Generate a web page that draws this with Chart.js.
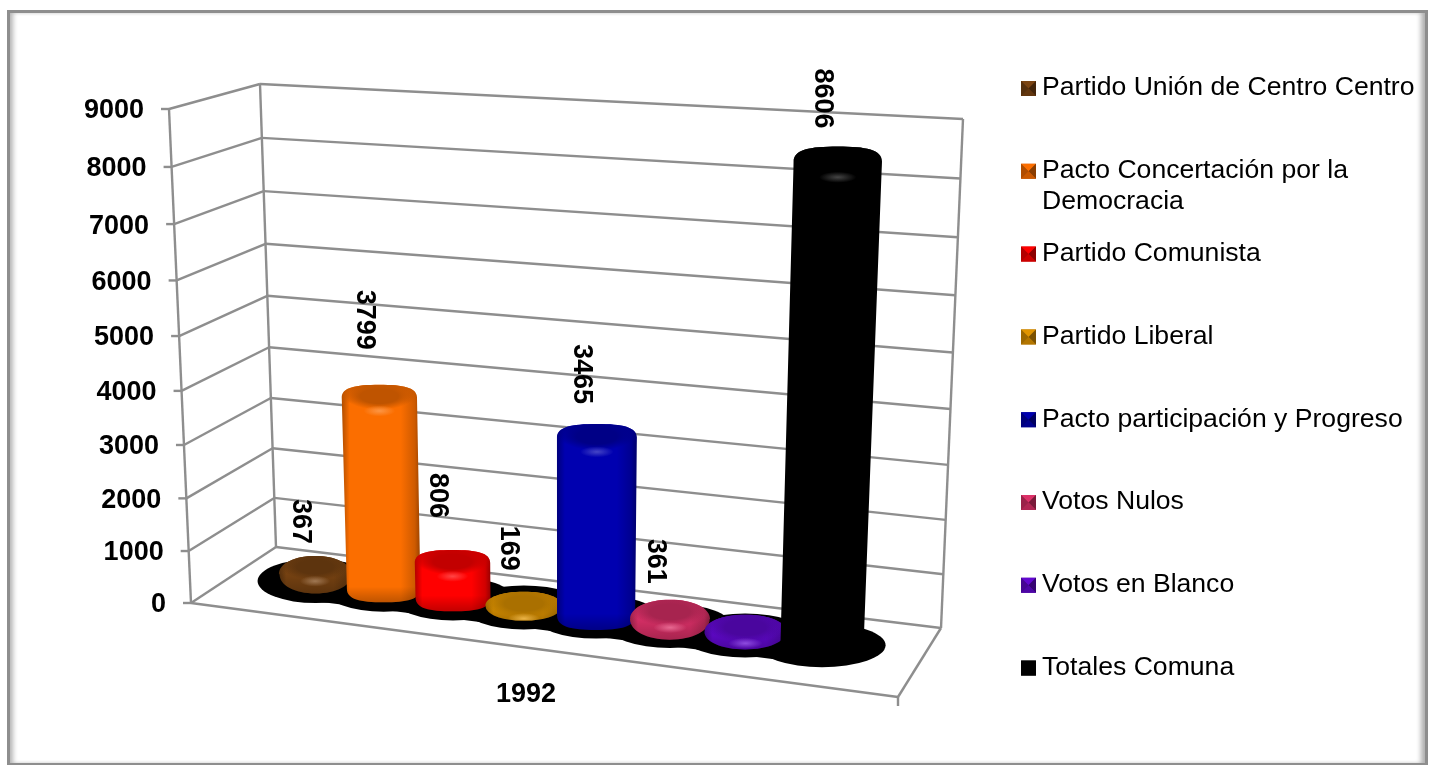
<!DOCTYPE html>
<html>
<head>
<meta charset="utf-8">
<script src="https://cdn.jsdelivr.net/npm/chart.js@4.4.7/dist/chart.umd.min.js"></script>
<style>
html, body { margin: 0; padding: 0; background: #fff; overflow: hidden; }
#wrap { position: relative; width: 1430px; height: 765px; }
#chart { position: absolute; left: 0; top: 0; }
#frame { position: absolute; left: 7px; top: 10px; width: 1415px; height: 750px; border: 3px solid #8e8e8e; box-shadow: inset 5px 0 5px -2px #b5b5b5, inset -6px 0 5px -2px #b0b0b0; pointer-events: none; }
</style>
</head>
<body>
<div id="wrap">
  <canvas id="chart" width="1430" height="765"></canvas>
  <div id="frame"></div>
</div>
<script>
"use strict";

var categories = ["1992"];
var seriesNames = ["Partido Unión de Centro Centro", "Pacto Concertación por la Democracia", "Partido Comunista", "Partido Liberal", "Pacto participación y Progreso", "Votos Nulos", "Votos en Blanco", "Totales Comuna"];
var seriesValues = [367, 3799, 806, 169, 3465, 361, 250, 8606];
var dataLabels = ["367", "3799", "806", "169", "3465", "361", null, "8606"];
var seriesColors = ["#7a4412", "#fb6e00", "#ff0000", "#e09400", "#0000b0", "#dc3068", "#6208d0", "#000000"];

// gap between bar top and its rotated label
var labelGaps = [12, 35, 32, 21, 20, 16, 0, 18];
var legendLines = [["Partido Unión de Centro Centro"], ["Pacto Concertación por la", "Democracia"], ["Partido Comunista"], ["Partido Liberal"], ["Pacto participación y Progreso"], ["Votos Nulos"], ["Votos en Blanco"], ["Totales Comuna"]];

var GRID = "#8e8e8e";
var BOLD = "bold 27px 'Liberation Sans', Arial, sans-serif";
var PLAIN = "26.6px 'Liberation Sans', Arial, sans-serif";

// box corners on screen: bottom-left, bottom-right, top-right, top-left
var backWall = makeQuad([[276, 547], [941, 628], [963, 119], [260, 84]]);
var frontWall = makeQuad([[191, 603], [898, 697], [923, 158], [169, 109]]);
var BAR_DEPTH = 0.58;
var U_SHIFT = -0.008;

function makeQuad(p) {
    var dx1 = p[1][0] - p[2][0], dx2 = p[3][0] - p[2][0], sx = p[0][0] - p[1][0] + p[2][0] - p[3][0];
    var dy1 = p[1][1] - p[2][1], dy2 = p[3][1] - p[2][1], sy = p[0][1] - p[1][1] + p[2][1] - p[3][1];
    var den = dx1 * dy2 - dx2 * dy1;
    var g = (sx * dy2 - dx2 * sy) / den, h = (dx1 * sy - sx * dy1) / den;
    var a = p[1][0] - p[0][0] + g * p[1][0], b = p[3][0] - p[0][0] + h * p[3][0];
    var d = p[1][1] - p[0][1] + g * p[1][1], e = p[3][1] - p[0][1] + h * p[3][1];
    return function (u, v) {
        var q = g * u + h * v + 1;
        return [(a * u + b * v + p[0][0]) / q, (d * u + e * v + p[0][1]) / q];
    };
}

// u along the floor, v up the value axis, w 0 = front, 1 = back
function project(u, v, w) {
    var f = frontWall(u, v), b = backWall(u, v);
    return [f[0] + (b[0] - f[0]) * w, f[1] + (b[1] - f[1]) * w];
}

function mixRgb(hex, other, t) {
    var n = parseInt(hex.slice(1), 16), o = parseInt(other.slice(1), 16);
    return [
        Math.round((n >> 16) + ((o >> 16) - (n >> 16)) * t),
        Math.round(((n >> 8) & 255) + (((o >> 8) & 255) - ((n >> 8) & 255)) * t),
        Math.round((n & 255) + ((o & 255) - (n & 255)) * t)
    ];
}

function mix(hex, other, t, alpha) {
    var c = mixRgb(hex, other, t);
    return "rgba(" + c[0] + "," + c[1] + "," + c[2] + "," + (alpha === undefined ? 1 : alpha) + ")";
}

function line(ctx, a, b) {
    ctx.beginPath();
    ctx.moveTo(a[0], a[1]);
    ctx.lineTo(b[0], b[1]);
    ctx.stroke();
}

function softEllipse(ctx, x, y, rx, ry, hex, other, t, hold) {
    ctx.save();
    ctx.translate(x, y);
    ctx.scale(rx, ry);
    var g = ctx.createRadialGradient(0, 0, 0, 0, 0, 1);
    g.addColorStop(0, mix(hex, other, t, 1));
    g.addColorStop(hold, mix(hex, other, t, 1));
    g.addColorStop(1, mix(hex, other, t, 0));
    ctx.fillStyle = g;
    ctx.beginPath();
    ctx.arc(0, 0, 1, 0, Math.PI * 2);
    ctx.fill();
    ctx.restore();
}

function barGeometry(el, area) {
    var u = (el.x - area.left) / area.width + U_SHIFT;
    var du = el.width / area.width / 2;
    var v = (area.bottom - el.y) / area.height;
    var base = project(u, 0, BAR_DEPTH), top = project(u, v, BAR_DEPTH);
    var baseL = project(u - du, 0, BAR_DEPTH), baseR = project(u + du, 0, BAR_DEPTH);
    var topL = project(u - du, v, BAR_DEPTH), topR = project(u + du, v, BAR_DEPTH);
    var rb = (baseR[0] - baseL[0]) / 2, rt = (topR[0] - topL[0]) / 2;
    var ryt = rt * 0.34, ty = top[1] + ryt * 0.55;
    var g = { bx: base[0], by: base[1], floorY: base[1], tx: top[0], ty: ty, rb: rb, rt: rt, ryb: rb * 0.37, ryt: ryt, capY: ty, capR: ryt };
    // very short bars close up into a round disc
    var side = g.by - g.ty;
    if (side < 24) {
        g.ryt += side / 2;
        g.ryb += side / 2;
        g.ty = g.by = g.ty + side / 2;
        g.round = true;
    }
    return g;
}

function drawShadow(ctx, geoms) {
    ctx.fillStyle = "#000";
    ctx.strokeStyle = "#000";
    geoms.forEach(function (g) {
        ctx.beginPath();
        ctx.ellipse(g.bx, g.floorY + 1, g.rb + 22, 22, 0, 0, Math.PI * 2);
        ctx.fill();
    });
    // the blobs run together along the floor
    var a = geoms[0], b = geoms[geoms.length - 1];
    ctx.lineWidth = 34;
    line(ctx, [a.bx, a.floorY + 4], [b.bx, b.floorY + 4]);
}

function drawBar(ctx, g, color) {
    var kx = g.round ? 0.58 : 0.64, ky = g.round ? 0.58 : 0.78;
    ctx.beginPath();
    ctx.moveTo(g.tx - g.rt, g.ty);
    ctx.bezierCurveTo(g.tx - g.rt, g.ty - g.ryt * ky, g.tx - g.rt * kx, g.ty - g.ryt, g.tx, g.ty - g.ryt);
    ctx.bezierCurveTo(g.tx + g.rt * kx, g.ty - g.ryt, g.tx + g.rt, g.ty - g.ryt * ky, g.tx + g.rt, g.ty);
    ctx.lineTo(g.bx + g.rb, g.by);
    ctx.bezierCurveTo(g.bx + g.rb, g.by + g.ryb * ky, g.bx + g.rb * kx, g.by + g.ryb, g.bx, g.by + g.ryb);
    ctx.bezierCurveTo(g.bx - g.rb * kx, g.by + g.ryb, g.bx - g.rb, g.by + g.ryb * ky, g.bx - g.rb, g.by);
    ctx.closePath();

    var left = Math.min(g.tx - g.rt, g.bx - g.rb), right = Math.max(g.tx + g.rt, g.bx + g.rb);
    var grad = ctx.createLinearGradient(left, 0, right, 0);
    grad.addColorStop(0, mix(color, "#000000", 0.3));
    grad.addColorStop(0.1, color);
    grad.addColorStop(0.75, color);
    grad.addColorStop(0.93, mix(color, "#000000", 0.18));
    grad.addColorStop(1, mix(color, "#000000", 0.4));
    ctx.fillStyle = grad;
    ctx.fill();

    ctx.save();
    ctx.clip();
    // darker rim along the bottom
    var rimTop = g.by - (g.round ? 4 : 2);
    var rim = ctx.createLinearGradient(0, rimTop, 0, g.by + g.ryb);
    rim.addColorStop(0, "rgba(0,0,0,0)");
    rim.addColorStop(1, "rgba(0,0,0,0.24)");
    ctx.fillStyle = rim;
    ctx.fillRect(left, rimTop, right - left, g.by + g.ryb - rimTop + 2);
    // shading over the top edge
    var domeTop = g.capY - g.capR;
    var dome = ctx.createLinearGradient(0, domeTop, 0, g.capY + g.capR * 0.5);
    dome.addColorStop(0, mix(color, "#000000", 0.22, 1));
    dome.addColorStop(1, mix(color, "#000000", 0.22, 0));
    ctx.fillStyle = dome;
    ctx.fillRect(left, domeTop, right - left, g.capR * 1.5);
    // darker cap
    softEllipse(ctx, g.tx, g.capY - g.capR * 0.1, g.rt * 0.92, g.capR * 1.05, color, "#000000", 0.24, 0.55);
    // soft highlight under the cap
    softEllipse(ctx, g.tx, g.capY + g.capR * 1.05, g.rt * 0.42, 5.5, color, "#ffffff", 0.26, 0.05);
    ctx.restore();
}

var box3dPlugin = {
    id: "box3d",
    beforeDatasetsDraw: function (chart) {
        var ctx = chart.ctx, yScale = chart.scales.y;
        var area = chart.chartArea;
        ctx.save();
        ctx.strokeStyle = GRID;
        ctx.lineWidth = 2.4;
        yScale.ticks.forEach(function (tick) {
            var v = (area.bottom - yScale.getPixelForValue(tick.value)) / area.height;
            var fl = project(0, v, 0), bl = project(0, v, 1), br = project(1, v, 1);
            line(ctx, [fl[0] - 8, fl[1]], fl);
            line(ctx, fl, bl);
            line(ctx, bl, br);
            ctx.fillStyle = "#000";
            ctx.font = BOLD;
            ctx.textAlign = "right";
            ctx.textBaseline = "middle";
            ctx.fillText(tick.label, fl[0] - 25, fl[1] + 2);
        });
        line(ctx, project(0, 0, 0), project(0, 1, 0));
        line(ctx, project(0, 0, 1), project(0, 1, 1));
        line(ctx, project(1, 0, 1), project(1, 1, 1));
        var fr = project(1, 0, 0);
        line(ctx, project(0, 0, 0), fr);
        line(ctx, fr, project(1, 0, 1));
        line(ctx, fr, [fr[0], fr[1] + 9]);

        // category label under the floor
        var mid = project(0.5, 0, 0);
        ctx.fillStyle = "#000";
        ctx.font = BOLD;
        ctx.textAlign = "center";
        ctx.fillText(chart.data.labels[0], mid[0] - 2, mid[1] + 47);

        var geoms = chart.data.datasets.map(function (ds, i) {
            return barGeometry(chart.getDatasetMeta(i).data[0], area);
        });
        drawShadow(ctx, geoms);
        geoms.forEach(function (g, i) { drawBar(ctx, g, seriesColors[i]); });

        // rotated value labels
        geoms.forEach(function (g, i) {
            if (!dataLabels[i]) return;
            ctx.save();
            ctx.translate(g.tx - 15, g.capY - g.capR - labelGaps[i]);
            ctx.rotate(Math.PI / 2);
            ctx.font = BOLD;
            ctx.textAlign = "right";
            ctx.textBaseline = "middle";
            ctx.fillStyle = "#000";
            ctx.fillText(dataLabels[i], 0, 0);
            ctx.restore();
        });
        ctx.restore();
    },
    beforeDatasetDraw: function () {
        return false;
    },
    afterDraw: function (chart) {
        var ctx = chart.ctx;
        ctx.save();
        legendLines.forEach(function (rows, i) {
            var y = 88 + i * 82.8;
            var c = seriesColors[i];
            var x0 = 1021, s = 15, y0 = y - 7;
            ctx.fillStyle = mix(c, "#000000", 0.2);
            ctx.fillRect(x0, y0, s, s);
            var tri = [
                [[x0, y0], [x0 + s, y0], mix(c, "#000000", 0)],
                [[x0 + s, y0], [x0 + s, y0 + s], mix(c, "#000000", 0.45)],
                [[x0 + s, y0 + s], [x0, y0 + s], mix(c, "#000000", 0.2)],
                [[x0, y0 + s], [x0, y0], mix(c, "#000000", 0.3)]
            ];
            tri.forEach(function (t) {
                ctx.fillStyle = t[2];
                ctx.beginPath();
                ctx.moveTo(t[0][0], t[0][1]);
                ctx.lineTo(t[1][0], t[1][1]);
                ctx.lineTo(x0 + s / 2, y0 + s / 2);
                ctx.closePath();
                ctx.fill();
            });
            ctx.fillStyle = "#000";
            ctx.font = PLAIN;
            ctx.textAlign = "left";
            ctx.textBaseline = "middle";
            rows.forEach(function (text, r) {
                ctx.fillText(text, 1042, y + r * 31);
            });
        });
        ctx.restore();
    }
};

new Chart(document.getElementById("chart"), {
    type: "bar",
    data: {
        labels: categories,
        datasets: seriesNames.map(function (name, i) {
            return { label: name, data: [seriesValues[i]], backgroundColor: seriesColors[i] };
        })
    },
    options: {
        responsive: false,
        animation: false,
        layout: { padding: { left: 190, right: 532, top: 108, bottom: 163 } },
        datasets: { bar: { categoryPercentage: 0.85, barPercentage: 1.07 } },
        plugins: { legend: { display: false }, tooltip: { enabled: false } },
        scales: {
            x: { display: false },
            y: { display: false, min: 0, max: 9000, ticks: { stepSize: 1000, autoSkip: false, callback: function (v) { return String(v); } } }
        }
    },
    plugins: [box3dPlugin]
});
</script>
</body>
</html>
